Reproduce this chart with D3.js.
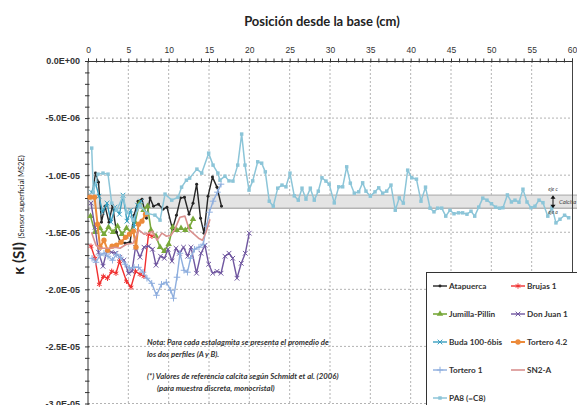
<!DOCTYPE html>
<html>
<head>
<meta charset="utf-8">
<script src="https://cdn.jsdelivr.net/npm/d3@7"></script>
<style>
  body { margin: 0; background: #fff; }
  svg { display: block; font-family: Lato, "Open Sans", sans-serif; }
</style>
</head>
<body>
<svg id="chart" width="577" height="405"></svg>
<script>
// posiciones (cm) y susceptibilidad (SI)
const atapuerca = [[0.56,-11.49e-6],[0.93,-9.82e-6],[1.30,-10.61e-6],[1.67,-14.12e-6],[2.11,-12.72e-6],[2.6,-14.12e-6],[3.04,-12.63e-6],[3.53,-15.0e-6],[3.97,-15.79e-6],[4.59,-15.96e-6],[5.21,-15.87e-6],[5.71,-13.51e-6],[6.2,-12.28e-6],[6.69,-12.1e-6],[7.25,-13.77e-6],[7.69,-12.01e-6],[8.12,-12.72e-6],[8.74,-12.54e-6],[9.3,-12.98e-6],[9.79,-12.8e-6],[10.47,-14.73e-6],[10.97,-13.51e-6],[11.47,-12.01e-6],[11.96,-11.93e-6],[12.52,-13.42e-6],[13.02,-12.45e-6],[13.47,-10.79e-6],[13.95,-13.77e-6],[14.38,-15.08e-6],[14.88,-11.84e-6],[15.43,-10.17e-6],[15.99,-11.05e-6],[16.55,-12.72e-6]];
const brujas1 = [[0.37,-16.22e-6],[0.87,-17.28e-6],[1.4,-19.56e-6],[1.9,-18.86e-6],[2.42,-19.03e-6],[2.94,-18.42e-6],[3.47,-18.59e-6],[3.91,-17.54e-6],[4.77,-19.29e-6],[5.33,-19.82e-6],[5.89,-18.42e-6],[6.45,-18.68e-6],[6.94,-18.86e-6],[7.5,-15.17e-6],[7.93,-15.35e-6]];
const jumillaPillin = [[0.31,-13.59e-6],[0.87,-15.0e-6],[1.49,-14.65e-6],[1.98,-15.17e-6],[2.54,-14.56e-6],[3.1,-15.0e-6],[3.66,-14.47e-6],[4.21,-15.17e-6],[4.77,-14.65e-6],[5.33,-15.0e-6],[5.83,-14.12e-6],[6.38,-12.45e-6],[6.88,-13.07e-6],[7.38,-12.72e-6],[7.81,-14.82e-6],[8.43,-15.35e-6],[8.93,-16.31e-6],[9.46,-16.66e-6],[10.0,-16.05e-6],[10.5,-14.56e-6],[11.0,-14.82e-6],[11.53,-14.65e-6],[12.06,-14.82e-6],[12.56,-14.56e-6],[13.02,-13.86e-6]];
const donJuan1 = [[0.37,-12.45e-6],[0.87,-14.56e-6],[1.3,-16.75e-6],[1.86,-17.98e-6],[2.36,-16.58e-6],[2.91,-16.75e-6],[3.47,-16.84e-6],[3.97,-17.19e-6],[4.46,-17.45e-6],[5.02,-18.59e-6],[5.45,-18.42e-6],[5.89,-16.31e-6],[6.45,-17.19e-6],[6.94,-16.31e-6],[7.5,-16.22e-6],[8.0,-16.49e-6],[8.43,-17.89e-6],[8.99,-17.1e-6],[9.48,-17.28e-6],[9.92,-16.49e-6],[10.41,-17.54e-6],[10.91,-16.4e-6],[11.34,-16.84e-6],[11.84,-16.31e-6],[12.36,-17.1e-6],[12.77,-16.31e-6],[13.45,-18.59e-6],[14.01,-16.84e-6],[14.5,-16.14e-6],[14.96,-17.8e-6],[15.46,-18.59e-6],[15.99,-18.42e-6],[16.49,-18.59e-6],[16.98,-17.1e-6],[17.48,-16.84e-6],[17.94,-17.28e-6],[18.47,-19.03e-6],[19.0,-17.72e-6],[19.5,-16.84e-6],[19.99,-15.08e-6]];
const buda = [[0.43,-11.49e-6],[0.93,-10.7e-6],[1.36,-11.84e-6],[1.8,-13.24e-6],[2.36,-12.45e-6],[2.85,-14.12e-6],[3.35,-12.8e-6],[3.9,-13.42e-6],[4.34,-11.75e-6],[4.83,-14.03e-6],[5.29,-13.07e-6],[5.7,-14.56e-6],[6.14,-12.63e-6],[6.57,-12.28e-6]];
const tortero42 = [[0.25,-11.93e-6],[0.81,-11.93e-6],[1.18,-14.3e-6],[1.49,-16.31e-6],[1.98,-15.7e-6],[2.44,-16.58e-6],[2.98,-16.22e-6],[3.53,-16.14e-6],[4.09,-15.87e-6],[4.65,-15.44e-6],[5.14,-15.17e-6],[5.62,-14.91e-6],[5.95,-16.31e-6],[6.26,-14.3e-6],[6.69,-14.03e-6],[7.13,-13.42e-6]];
const tortero1 = [[0.5,-17.28e-6],[0.99,-17.63e-6],[1.49,-17.01e-6],[1.98,-16.84e-6],[2.48,-17.1e-6],[3.04,-17.45e-6],[3.53,-16.93e-6],[4.03,-17.19e-6],[4.59,-17.8e-6],[5.14,-18.15e-6],[5.7,-18.07e-6],[6.26,-18.07e-6],[6.82,-18.5e-6],[7.31,-19.03e-6],[7.9,-19.47e-6],[8.49,-20.52e-6],[9.11,-19.56e-6],[9.71,-19.38e-6],[10.25,-20.08e-6],[10.6,-20.78e-6],[11.03,-18.94e-6],[11.4,-16.84e-6],[11.9,-18.33e-6],[12.33,-18.5e-6],[12.71,-17.28e-6],[13.2,-16.49e-6],[13.76,-16.31e-6],[14.29,-16.05e-6],[14.69,-14.47e-6],[15.06,-13.24e-6],[15.5,-12.28e-6],[16.05,-11.49e-6],[16.49,-10.79e-6]];
const sn2a = [[0.43,-15.0e-6],[0.99,-16.14e-6],[1.49,-16.4e-6],[2.11,-16.4e-6],[2.73,-16.4e-6],[3.35,-16.31e-6],[3.97,-16.4e-6],[4.77,-16.05e-6],[5.58,-15.96e-6],[6.32,-14.82e-6],[6.94,-15.17e-6],[7.5,-15.08e-6],[8.0,-14.91e-6],[8.55,-15.7e-6],[9.17,-15.08e-6],[9.73,-15.35e-6],[10.29,-15.26e-6],[10.78,-14.73e-6],[11.4,-13.68e-6],[12.02,-13.59e-6],[12.58,-14.82e-6],[13.14,-15.17e-6],[13.7,-15.52e-6],[14.19,-15.7e-6],[14.63,-15.0e-6],[15.12,-13.86e-6]];
const pa8 = [[0.46,-7.63e-6],[0.66,-11.49e-6],[1.24,-9.91e-6],[1.86,-9.82e-6],[2.48,-9.91e-6],[2.94,-12.45e-6],[3.56,-13.07e-6],[4.34,-11.84e-6],[4.8,-13.24e-6],[5.58,-13.94e-6],[6.45,-12.63e-6],[7.28,-13.33e-6],[8.3,-13.5e-6],[8.93,-13.94e-6],[9.55,-11.66e-6],[10.38,-12.19e-6],[11.16,-11.93e-6],[11.6,-11.05e-6],[12.2,-10.44e-6],[12.6,-10.26e-6],[13.5,-9.47e-6],[14.1,-9.82e-6],[14.96,-8.07e-6],[15.5,-9.12e-6],[16.1,-9.82e-6],[16.36,-10.44e-6],[16.98,-10.09e-6],[17.48,-10.5e-6],[17.97,-10.52e-6],[18.56,-9.12e-6],[19.05,-6.4e-6],[19.46,-9.12e-6],[19.96,-11.31e-6],[20.42,-10.5e-6],[21.04,-8.83e-6],[21.53,-8.95e-6],[21.98,-9.71e-6],[22.47,-12.28e-6],[22.97,-12.72e-6],[23.52,-11.14e-6],[24.05,-10.87e-6],[24.54,-11.02e-6],[25.04,-9.82e-6],[25.57,-11.81e-6],[26.07,-12.19e-6],[26.53,-11.14e-6],[27.02,-12.1e-6],[27.56,-11.14e-6],[28.05,-12.19e-6],[28.55,-11.4e-6],[29.0,-10.23e-6],[29.5,-10.52e-6],[29.9,-10.79e-6],[30.53,-12.43e-6],[31.08,-11.02e-6],[31.57,-11.02e-6],[32.07,-9.27e-6],[32.52,-10.7e-6],[33.01,-11.58e-6],[33.56,-11.46e-6],[34.05,-10.67e-6],[34.46,-11.4e-6],[35.0,-11.84e-6],[35.58,-11.46e-6],[36.04,-11.11e-6],[36.53,-11.58e-6],[37.03,-11.4e-6],[37.56,-10.87e-6],[38.09,-13.07e-6],[38.59,-11.99e-6],[39.09,-12.45e-6],[39.63,-9.56e-6],[40.13,-10.23e-6],[40.72,-10.35e-6],[41.28,-12.28e-6],[41.84,-11.05e-6],[42.4,-12.89e-6],[42.89,-13.21e-6],[43.35,-12.89e-6],[43.85,-12.89e-6],[44.35,-13.59e-6],[44.87,-13.07e-6],[45.37,-13.38e-6],[45.93,-13.3e-6],[46.44,-13.3e-6],[46.98,-13.42e-6],[47.48,-13.16e-6],[47.94,-13.59e-6],[48.44,-12.8e-6],[48.94,-12.01e-6],[49.46,-12.19e-6],[50.02,-12.5e-6],[50.53,-12.8e-6],[51.02,-12.89e-6],[51.44,-12.85e-6],[51.99,-11.73e-6],[52.49,-12.35e-6],[52.93,-12.19e-6],[53.43,-12.37e-6],[53.92,-11.23e-6],[54.42,-12.35e-6],[54.92,-12.85e-6],[55.41,-12.72e-6],[55.91,-12.19e-6],[56.4,-12.41e-6],[57.0,-13.59e-6],[57.52,-12.8e-6],[58.01,-14.18e-6],[58.51,-13.86e-6],[59.08,-13.51e-6],[59.59,-13.73e-6]];

const seriesNames = ['Atapuerca','Brujas 1','Jumilla-Pillin','Don Juan 1','Buda 100-6bis','Tortero 4.2','Tortero 1','SN2-A','PA8 (=C8)'];
const xTicks = [0,5,10,15,20,25,30,35,40,45,50,55,60];
const yTicks = [0,-5e-6,-1e-5,-1.5e-5,-2e-5,-2.5e-5,-3e-5];
const calcitaBand = [-11.75e-6, -12.9e-6]; // eje c, eje a

const svg = d3.select('#chart');
const x = d3.scaleLinear().domain([0, 60]).range([88, 572]);
const y = d3.scaleLinear().domain([0, -3e-5]).range([61, 403.5]);

function fmtE(v) {
  if (v === 0) return '0.0E+00';
  const parts = v.toExponential(1).split('e');
  const e = +parts[1];
  return parts[0] + 'E' + (e < 0 ? '-' : '+') + String(Math.abs(e)).padStart(2, '0');
}

// title
svg.append('text').attr('x', 322).attr('y', 26).attr('text-anchor', 'middle')
  .attr('font-size', 13).attr('font-weight', 'bold').attr('fill', '#222')
  .text('Posición desde la base (cm)');

// grid
svg.append('g').selectAll('line').data(yTicks.slice(1)).join('line')
  .attr('x1', 88).attr('x2', 572).attr('y1', d => y(d)).attr('y2', d => y(d))
  .attr('stroke', '#a0a0a0').attr('stroke-dasharray', '2,2').attr('stroke-width', 0.8);
svg.append('g').selectAll('line').data(xTicks.slice(1, -1)).join('line')
  .attr('x1', d => x(d)).attr('x2', d => x(d)).attr('y1', 61).attr('y2', 405)
  .attr('stroke', '#a0a0a0').attr('stroke-dasharray', '2,2').attr('stroke-width', 0.8);

// calcita band
const band = svg.append('g');
band.append('rect').attr('x', 88).attr('y', y(calcitaBand[0]))
  .attr('width', 577 - 88).attr('height', y(calcitaBand[1]) - y(calcitaBand[0]))
  .attr('fill', '#e4e4e4');
band.selectAll('line').data(calcitaBand).join('line')
  .attr('x1', 88).attr('x2', 577).attr('y1', d => y(d)).attr('y2', d => y(d))
  .attr('stroke', '#b4b4b4').attr('stroke-width', 1.4);

// right border
svg.append('line').attr('x1', 572.5).attr('x2', 572.5).attr('y1', 61).attr('y2', 405)
  .attr('stroke', '#444').attr('stroke-width', 1);

// axes
const xAxis = d3.axisTop(x).tickValues(d3.range(0, 61, 1)).tickSize(2.5)
  .tickFormat(d => xTicks.includes(d) ? d : '');
const gx = svg.append('g').attr('transform', 'translate(0,61)').call(xAxis);
gx.selectAll('text').attr('font-size', 8.5).attr('fill', '#333').attr('dy', '-3');
gx.selectAll('.tick line').attr('y2', -2.5).attr('y1', 1.5).attr('stroke', '#333');
gx.select('.domain').attr('stroke', '#333');

const yAxis = d3.axisLeft(y).tickValues(d3.range(0, -3.05e-5, -1e-6)).tickSize(3)
  .tickFormat(d => { const t = yTicks.find(v => Math.abs(v - d) < 1e-9); return t !== undefined ? fmtE(t) : ''; });
const gy = svg.append('g').attr('transform', 'translate(88,0)').call(yAxis);
gy.selectAll('text').attr('font-size', 9).attr('font-weight', 'bold').attr('fill', '#333').attr('x', -8);
gy.selectAll('.tick line').attr('x1', 1.5).attr('stroke', '#333');
gy.select('.domain').attr('stroke', '#333').attr('d', 'M0,61V405');

// y label
const yl = svg.append('text').attr('transform', 'translate(24,215) rotate(-90)')
  .attr('text-anchor', 'middle').attr('fill', '#222');
yl.append('tspan').attr('font-size', 15).attr('font-weight', 'bold').text('κ (SI) ');
yl.append('tspan').attr('font-size', 7.5).text('(Sensor superficial MS2E)');

// series
const styles = [
  { data: atapuerca, color: '#262626', sym: d3.symbolCircle, size: 7, fill: true, w: 1.4 },
  { data: brujas1, color: '#f03030', sym: d3.symbolAsterisk, size: 20, fill: false, w: 1.4 },
  { data: jumillaPillin, color: '#78a83a', sym: d3.symbolTriangle, size: 18, fill: true, w: 1.6 },
  { data: donJuan1, color: '#7057a0', sym: d3.symbolTimes, size: 16, fill: false, w: 1.4 },
  { data: buda, color: '#3a9fc0', sym: d3.symbolTimes, size: 16, fill: false, w: 1.4 },
  { data: tortero42, color: '#ec8a3a', sym: d3.symbolCircle, size: 22, fill: true, w: 2 },
  { data: tortero1, color: '#8eaede', sym: d3.symbolPlus, size: 16, fill: false, w: 1.4 },
  { data: sn2a, color: '#d9908e', sym: null, size: 0, fill: false, w: 1.6 },
  { data: pa8, color: '#8cc5d8', sym: d3.symbolSquare, size: 12, fill: true, w: 1.5 }
];

const line = d3.line().x(d => x(d[0])).y(d => y(d[1]));
styles.forEach(s => {
  const g = svg.append('g');
  g.append('path').datum(s.data).attr('d', line).attr('fill', 'none')
    .attr('stroke', s.color).attr('stroke-width', s.w).attr('stroke-linejoin', 'round');
  if (s.sym) {
    g.selectAll('path.m').data(s.data).join('path').attr('class', 'm')
      .attr('transform', d => `translate(${x(d[0])},${y(d[1])})`)
      .attr('d', d3.symbol(s.sym, s.size))
      .attr('fill', s.fill ? s.color : 'none')
      .attr('stroke', s.color).attr('stroke-width', s.fill ? 0 : 1);
  }
});

// calcita annotation
const ann = svg.append('g').attr('fill', '#444').attr('font-style', 'italic');
ann.append('text').attr('x', 553).attr('y', 191).attr('font-size', 5).attr('text-anchor', 'middle').text('eje c');
ann.append('text').attr('x', 553).attr('y', 214).attr('font-size', 5).attr('text-anchor', 'middle').text('eje a');
ann.append('text').attr('x', 559).attr('y', 204).attr('font-size', 6).text('Calcita (*)');
ann.append('line').attr('x1', 553).attr('x2', 553).attr('y1', y(calcitaBand[0]) + 2).attr('y2', y(calcitaBand[1]) - 2)
  .attr('stroke', '#111').attr('stroke-width', 1);
ann.selectAll('path').data([[y(calcitaBand[0]), 1], [y(calcitaBand[1]), -1]]).join('path')
  .attr('d', d => `M550.5,${d[0] + 3.5 * d[1]}L553,${d[0]}L555.5,${d[0] + 3.5 * d[1]}Z`)
  .attr('fill', '#111');

// note
const note = svg.append('g').attr('font-size', 7.8).attr('font-style', 'italic')
  .attr('font-weight', 'bold').attr('fill', '#333');
note.append('text').attr('x', 147).attr('y', 345).text('Nota: Para cada estalagmita se presenta el promedio de');
note.append('text').attr('x', 147).attr('y', 357).text('los dos perfiles (A y B).');
note.append('text').attr('x', 147).attr('y', 379).text('(*) Valores de referencia calcita según Schmidt et al. (2006)');
note.append('text').attr('x', 157).attr('y', 391).text('(para muestra discreta, monocristal)');

// legend
const lg = svg.append('g');
lg.append('rect').attr('x', 426.5).attr('y', 272.5).attr('width', 170).attr('height', 150)
  .attr('fill', '#fff').attr('stroke', '#333').attr('stroke-width', 1);
styles.forEach((s, i) => {
  const lx = i % 2 === 0 ? 433 : 511;
  const ly = 286 + Math.floor(i / 2) * 28;
  const it = lg.append('g');
  it.append('line').attr('x1', lx).attr('x2', lx + 14).attr('y1', ly).attr('y2', ly)
    .attr('stroke', s.color).attr('stroke-width', s.w);
  if (s.sym) {
    it.append('path').attr('transform', `translate(${lx + 7},${ly})`)
      .attr('d', d3.symbol(s.sym, s.size))
      .attr('fill', s.fill ? s.color : 'none')
      .attr('stroke', s.color).attr('stroke-width', s.fill ? 0 : 1);
  }
  it.append('text').attr('x', lx + 16).attr('y', ly + 3).attr('font-size', 8.2)
    .attr('font-weight', 'bold').attr('fill', '#333').text(seriesNames[i]);
});
</script>
</body>
</html>
